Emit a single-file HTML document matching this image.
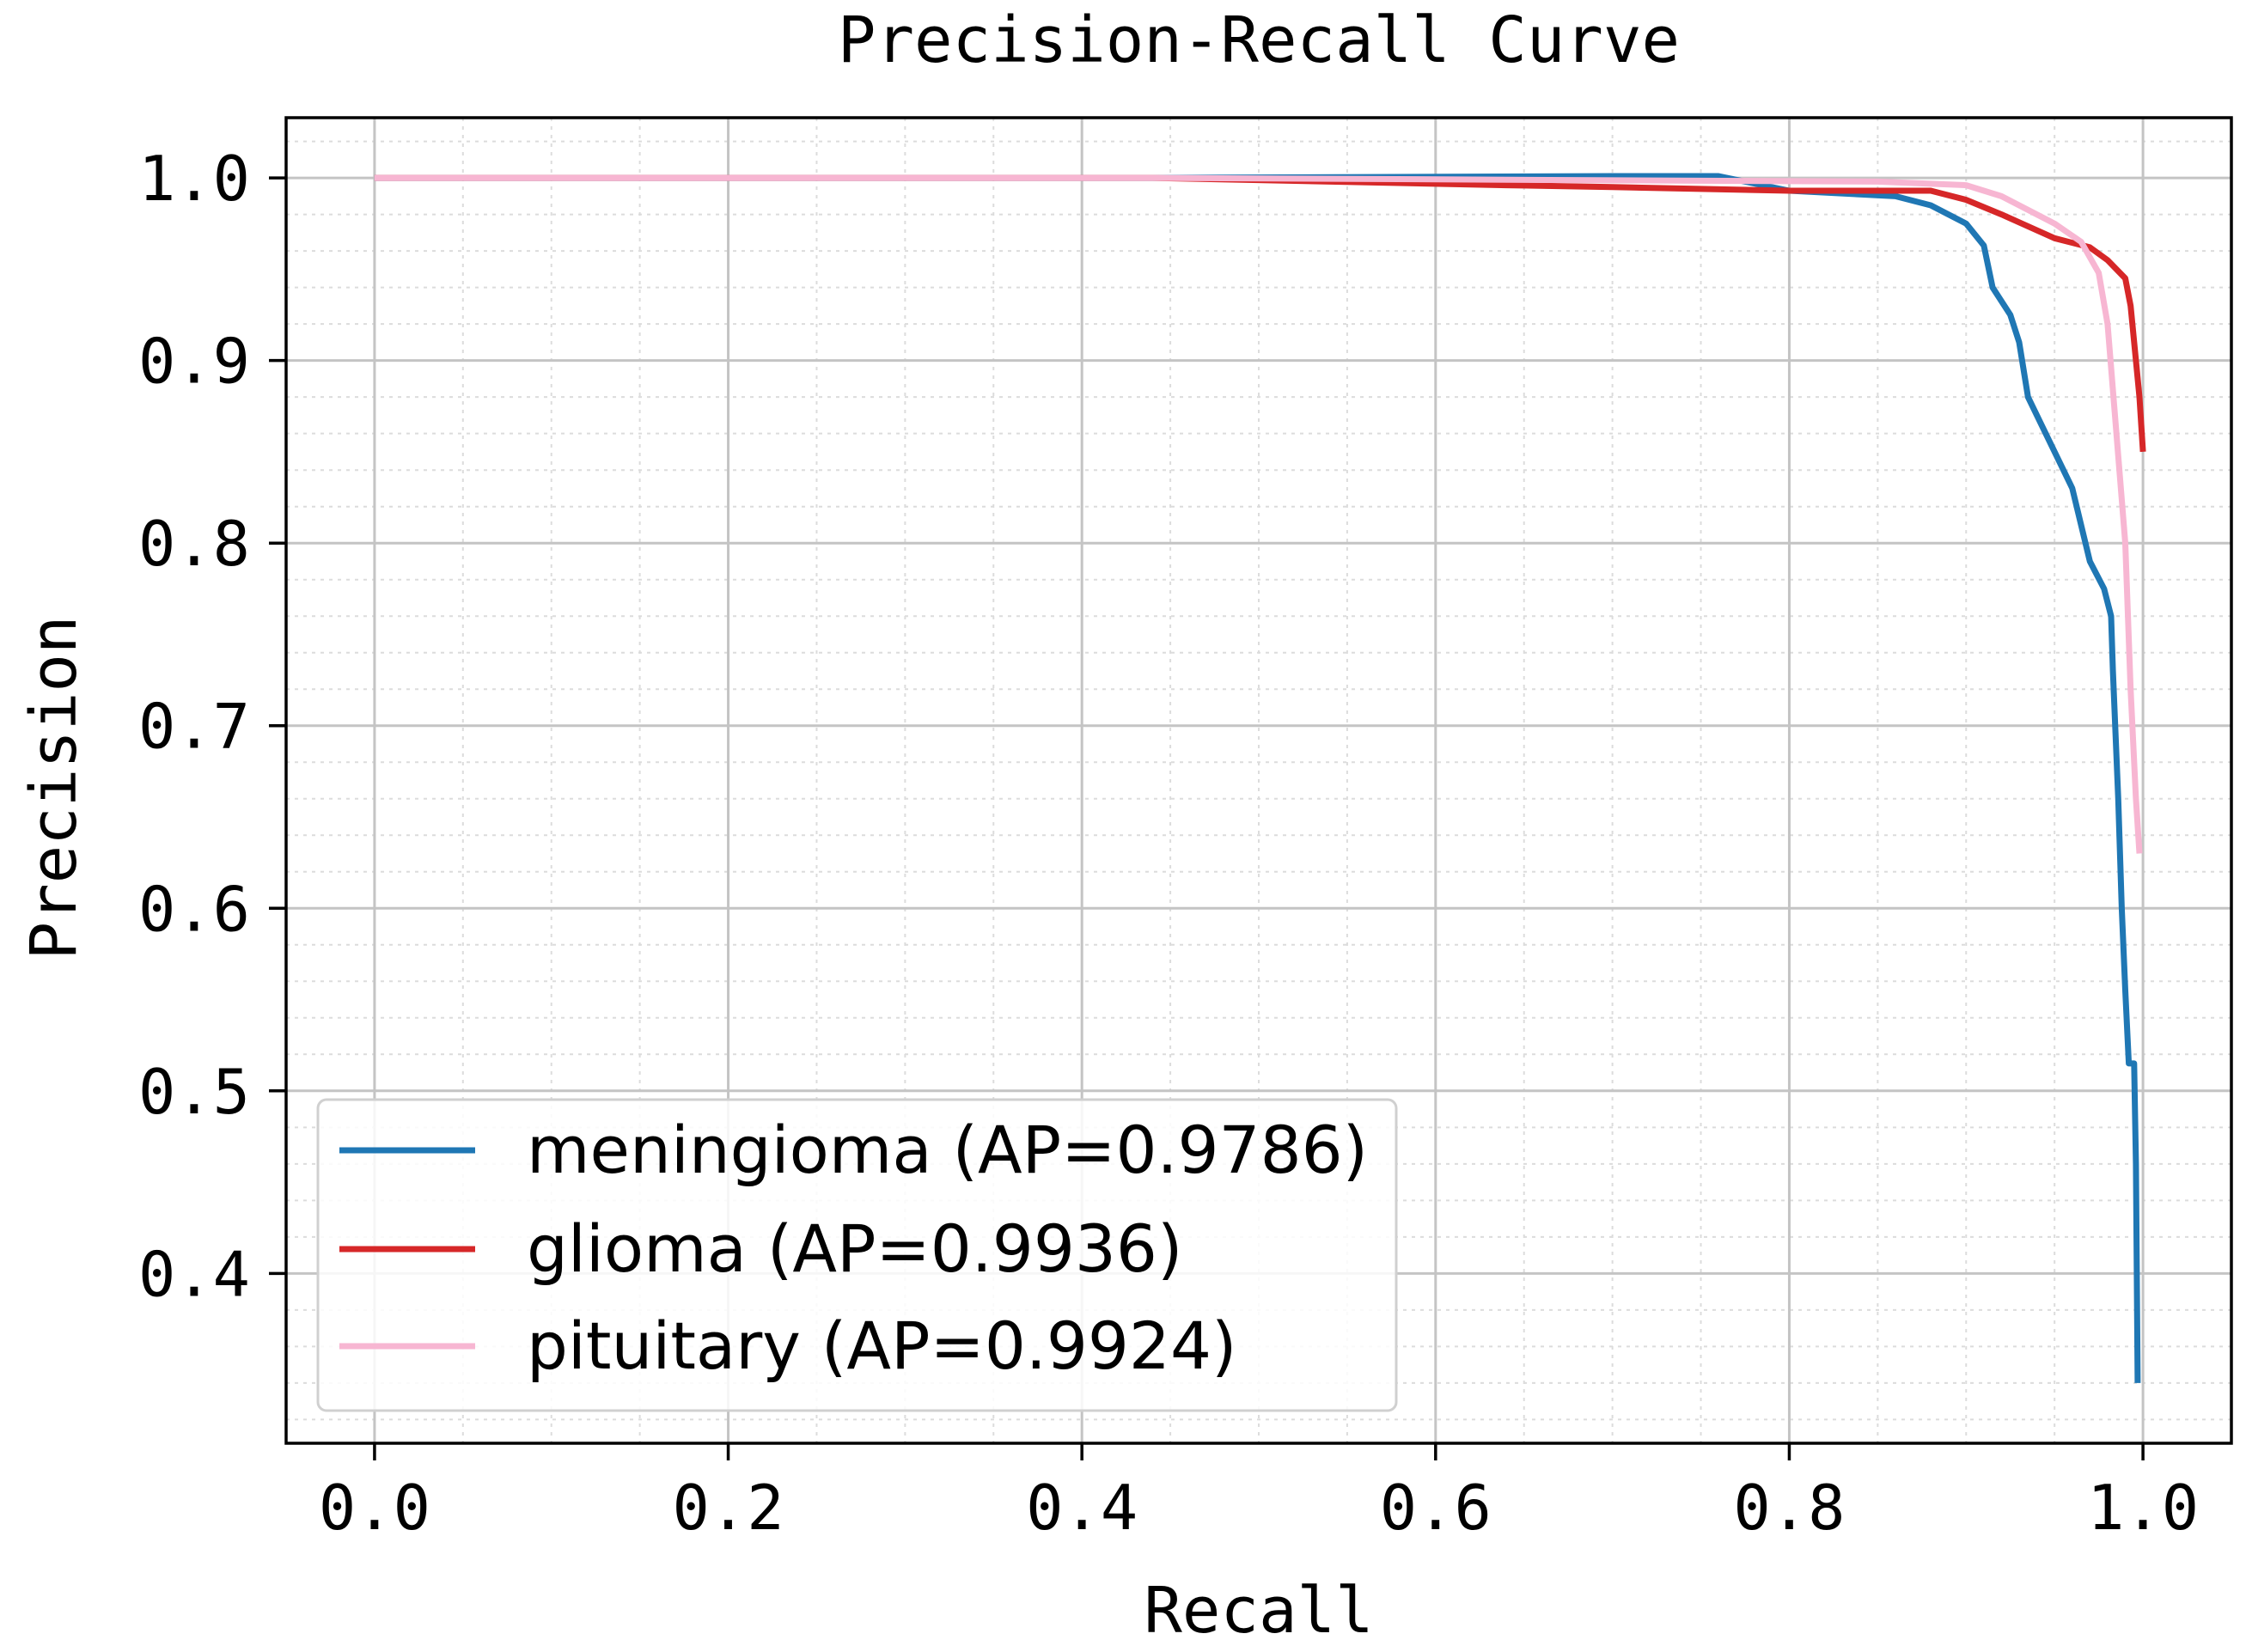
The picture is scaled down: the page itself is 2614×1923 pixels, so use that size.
<!DOCTYPE html>
<html><head><meta charset="utf-8"><style>
html,body{margin:0;padding:0;background:#fff;}
svg{display:block;}
</style></head><body>
<svg id="chart" width="2614" height="1923" viewBox="0 0 2614 1923" xmlns="http://www.w3.org/2000/svg">
<rect x="0" y="0" width="2614" height="1923" fill="#fff"/>
<g id="grid"></g>
<g id="series"></g>
<rect x="333" y="137" width="2264" height="1543" fill="none" stroke="#000" stroke-width="3.5"/>
<g id="ticks"></g>
<text x="1465" y="72" text-anchor="middle" font-family="DejaVu Sans Mono, Liberation Mono, monospace" font-size="74">Precision-Recall Curve</text>
<text x="1465" y="1900" text-anchor="middle" font-family="DejaVu Sans Mono, Liberation Mono, monospace" font-size="74">Recall</text>
<text transform="translate(88,917) rotate(-90)" text-anchor="middle" font-family="DejaVu Sans Mono, Liberation Mono, monospace" font-size="74">Precision</text>
<g id="legend">
<rect x="370" y="1280" width="1255" height="362" rx="10" fill="#fff" fill-opacity="0.85" stroke="#d0d0d0" stroke-width="3"/>
</g>
</svg>
<script>
const xTicks=[0,0.2,0.4,0.6,0.8,1.0];
const yTicks=[0.4,0.5,0.6,0.7,0.8,0.9,1.0];
const xTickLabels=["0.0","0.2","0.4","0.6","0.8","1.0"];
const yTickLabels=["0.4","0.5","0.6","0.7","0.8","0.9","1.0"];
const seriesNames=["meningioma (AP=0.9786)","glioma (AP=0.9936)","pituitary (AP=0.9924)"];
const meningiomaRecall=[0,0.44,0.70,0.76,0.78,0.80,0.86,0.88,0.90,0.91,0.915,0.925,0.93,0.935,0.96,0.97,0.978,0.982,0.983,0.986,0.988,0.99,0.992,0.995,0.996,0.997];
const meningiomaPrecision=[1.0,1.0,1.001,1.001,0.997,0.993,0.99,0.985,0.975,0.963,0.94,0.925,0.91,0.88,0.83,0.79,0.775,0.76,0.73,0.66,0.60,0.555,0.515,0.515,0.46,0.34];
const gliomaRecall=[0,0.44,0.64,0.70,0.80,0.88,0.90,0.92,0.95,0.97,0.98,0.99,0.993,0.996,0.998,1.0];
const gliomaPrecision=[1.0,1.0,0.996,0.995,0.993,0.993,0.988,0.98,0.967,0.962,0.955,0.945,0.93,0.90,0.88,0.85];
const pituitaryRecall=[0,0.44,0.85,0.90,0.92,0.95,0.965,0.975,0.98,0.985,0.99,0.993,0.996,0.998];
const pituitaryPrecision=[1.0,1.0,0.998,0.996,0.99,0.975,0.965,0.948,0.92,0.86,0.80,0.72,0.66,0.63];
const seriesColors=["#1f77b4","#d62728","#f7b6d2"];

const X0=333,X1=2597,Y0=137,Y1=1680,XMIN=-0.05,XMAX=1.05,YMIN=0.307,YMAX=1.033;
function sx(v){return X0+(v-XMIN)/(XMAX-XMIN)*(X1-X0);}
function sy(v){return Y1-(v-YMIN)/(YMAX-YMIN)*(Y1-Y0);}
const NS="http://www.w3.org/2000/svg";
function mk(tag,attrs,parent){const e=document.createElementNS(NS,tag);for(const k in attrs)e.setAttribute(k,attrs[k]);parent.appendChild(e);return e;}
const grid=document.getElementById('grid'),series=document.getElementById('series'),ticks=document.getElementById('ticks'),legend=document.getElementById('legend');
for(let i=-1;i<=21;i++){const v=i*0.05;if(v<XMIN||v>XMAX)continue;const x=sx(v);
 const l=mk('line',{x1:x,x2:x,y1:Y0,y2:Y1,stroke:'#dcdcdc','stroke-width':2,'stroke-dasharray':'4,6'},grid);
 
 }
for(let i=15;i<=52;i++){const v=i*0.02;if(v<YMIN||v>YMAX)continue;const y=sy(v);
 const l=mk('line',{x1:X0,x2:X1,y1:y,y2:y,stroke:'#dcdcdc','stroke-width':2,'stroke-dasharray':'4,6'},grid);
 
 }
xTicks.forEach((v,i)=>{const x=sx(v);
 const g=mk('line',{x1:x,x2:x,y1:Y0,y2:Y1,stroke:'#c4c4c4','stroke-width':3},grid);
 
 
 const t=mk('line',{x1:x,x2:x,y1:Y1,y2:Y1+20,stroke:'#000','stroke-width':3.5},ticks);
 
 
 const tx=mk('text',{x:x,y:Y1+100,'text-anchor':'middle','font-family':'DejaVu Sans Mono, Liberation Mono, monospace','font-size':72},ticks);
 tx.textContent=xTickLabels[i];
 
 });
yTicks.forEach((v,i)=>{const y=sy(v);
 const g=mk('line',{x1:X0,x2:X1,y1:y,y2:y,stroke:'#c4c4c4','stroke-width':3},grid);
 
 
 const t=mk('line',{x1:X0-20,x2:X0,y1:y,y2:y,stroke:'#000','stroke-width':3.5},ticks);
 
 
 const tx=mk('text',{x:X0-42,y:y+26,'text-anchor':'end','font-family':'DejaVu Sans Mono, Liberation Mono, monospace','font-size':72},ticks);
 tx.textContent=yTickLabels[i];
 
 });
const data=[[meningiomaRecall,meningiomaPrecision],[gliomaRecall,gliomaPrecision],[pituitaryRecall,pituitaryPrecision]];
const order=[0,1,2];
order.forEach(k=>{const [rx,py]=data[k];
 const pts=rx.map((r,i)=>sx(r).toFixed(1)+','+sy(py[i]).toFixed(1)).join(' ');
 const p=mk('polyline',{points:pts,fill:'none',stroke:seriesColors[k],'stroke-width':7,'stroke-linejoin':'round'},series);
 
 });
const legY=[1339,1454,1567];
seriesNames.forEach((n,i)=>{
 const l=mk('line',{x1:395,x2:553,y1:legY[i],y2:legY[i],stroke:seriesColors[i],'stroke-width':7},legend);
 
 
 const t=mk('text',{x:613,y:legY[i]+26,'font-family':'DejaVu Sans, Liberation Sans, sans-serif','font-size':75.5},legend);
 t.textContent=n;
 
 });
</script>
</body></html>
